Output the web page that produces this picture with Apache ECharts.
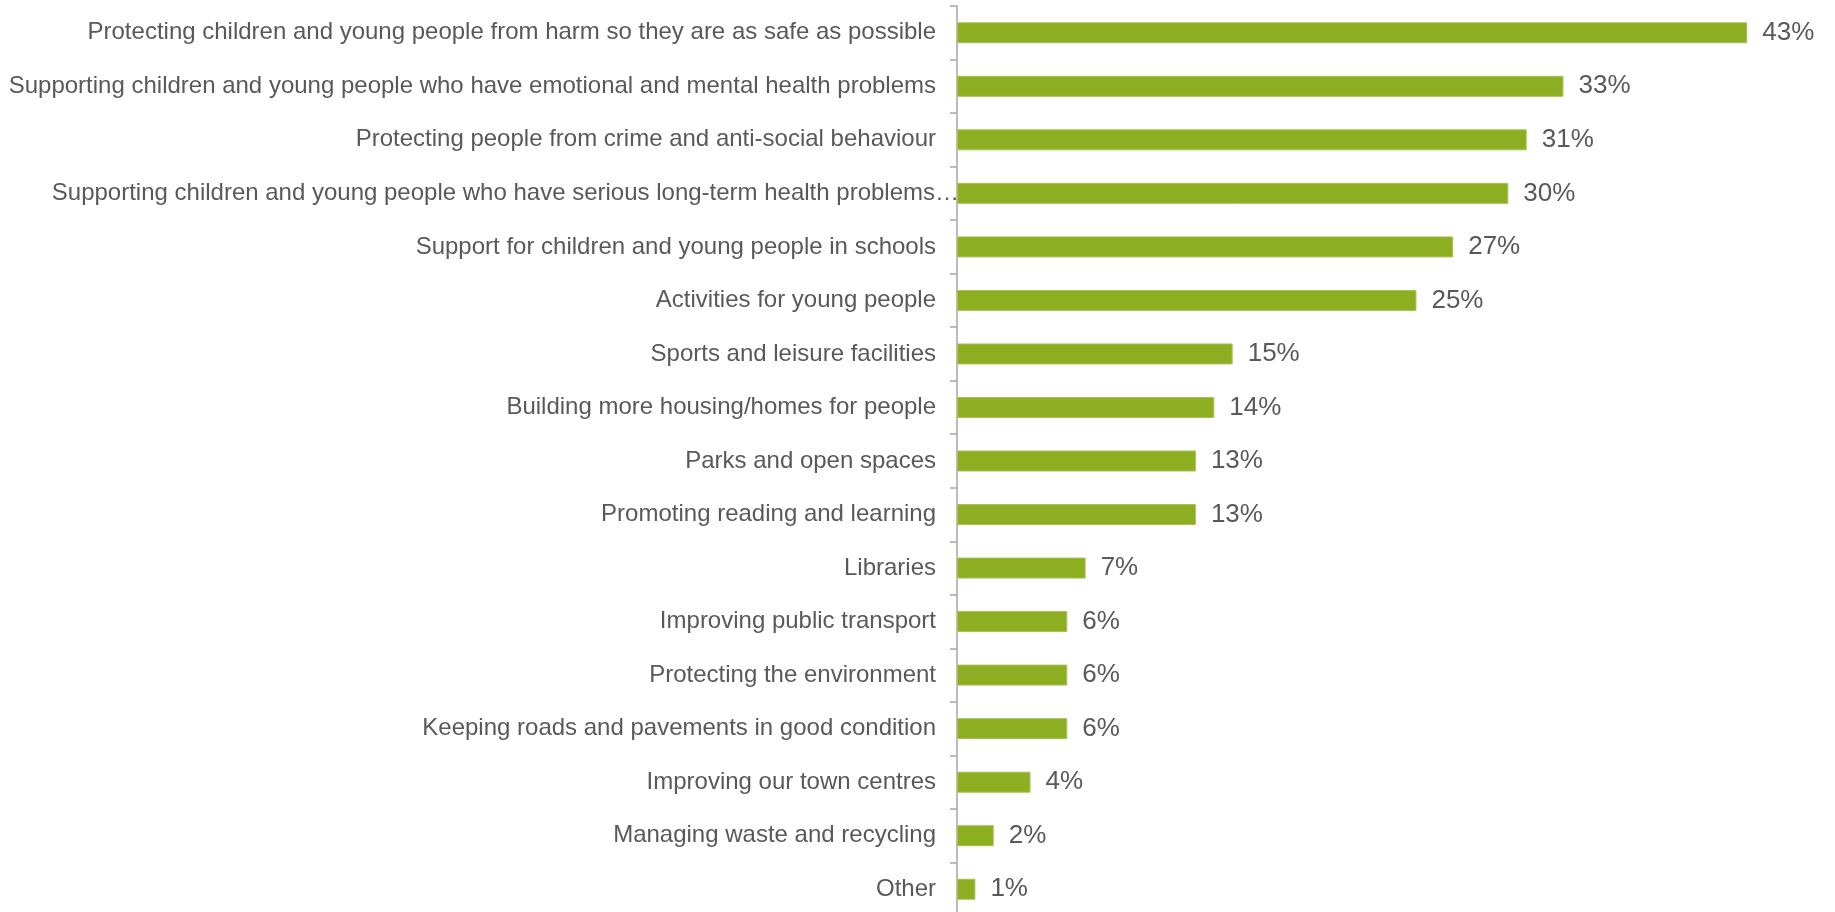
<!DOCTYPE html>
<html>
<head>
<meta charset="utf-8">
<script src="https://cdn.jsdelivr.net/npm/echarts@6/dist/echarts.min.js"></script>
<style>html,body{margin:0;padding:0;background:#fff;overflow:hidden;}#c{width:1835px;height:930px;}</style>
</head>
<body>
<div id="c"></div>
<script>
const categories = [
  "Protecting children and young people from harm so they are as safe as possible",
  "Supporting children and young people who have emotional and mental health problems",
  "Protecting people from crime and anti-social behaviour",
  "Supporting children and young people who have serious long-term health problems…",
  "Support for children and young people in schools",
  "Activities for young people",
  "Sports and leisure facilities",
  "Building more housing/homes for people",
  "Parks and open spaces",
  "Promoting reading and learning",
  "Libraries",
  "Improving public transport",
  "Protecting the environment",
  "Keeping roads and pavements in good condition",
  "Improving our town centres",
  "Managing waste and recycling",
  "Other"
];
const values = [43, 33, 31, 30, 27, 25, 15, 14, 13, 13, 7, 6, 6, 6, 4, 2, 1];

const FONT = '"Liberation Sans", Arial, sans-serif';
const chart = echarts.init(document.getElementById('c'), null, {renderer: 'canvas'});
chart.setOption({
  animation: false,
  grid: {left: 957, width: 827, top: 6, height: 910, containLabel: false},
  xAxis: {type: 'value', min: 0, max: 45, show: false},
  yAxis: {
    type: 'category',
    inverse: true,
    data: categories.map(c => c.endsWith('…') ? {value: c, textStyle: {padding: [0, -23, 0, 0]}} : c),
    axisLine: {show: true, lineStyle: {color: '#A6A6A6', width: 1.5}},
    axisTick: {show: true, inside: false, length: 7, lineStyle: {color: '#A6A6A6', width: 1.5}},
    axisLabel: {color: '#595959', fontFamily: FONT, fontSize: 24, margin: 21}
  },
  series: [{
    type: 'bar',
    data: values,
    barWidth: 21,
    itemStyle: {color: '#8EAE22', borderColor: '#A6C458', borderWidth: 1},
    label: {show: true, position: 'right', distance: 15, formatter: '{c}%', color: '#595959', fontFamily: FONT, fontSize: 26}
  }]
});
</script>
</body>
</html>
